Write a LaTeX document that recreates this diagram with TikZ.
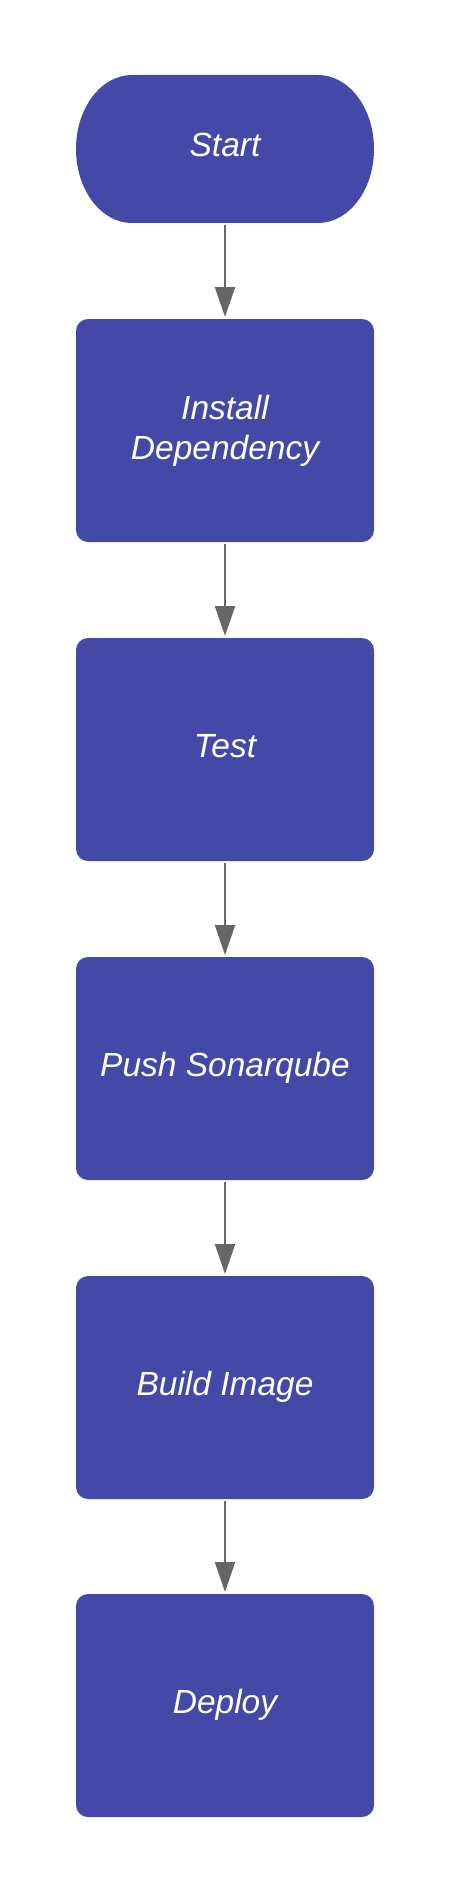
\documentclass[tikz,border=0pt]{standalone}
\usepackage{fontspec}
\setmainfont{Liberation Sans}
\usetikzlibrary{arrows.meta}

\definecolor{flowblue}{RGB}{68,73,167}
\definecolor{arrowgray}{RGB}{102,102,102}

\tikzset{
    steptext/.style={text=white, font=\itshape\fontsize{33.5}{40}\selectfont,
        align=center, inner sep=0pt, outer sep=0pt},
    stepbox/.style={steptext, fill=flowblue, rounded corners=12pt,
        minimum width=298pt, minimum height=223pt},
    oneline/.style={text height=24pt, text depth=8pt},
    flowarrow/.style={draw=arrowgray, line width=2pt,
        -{Triangle[width=20pt, length=30pt]}, shorten <=2pt, shorten >=2pt}
}

\begin{document}
\begin{tikzpicture}[x=1pt, y=-1pt]

    \useasboundingbox (0,0) rectangle (450,1894);

    % Start terminal with elliptical ends
    \fill[flowblue] (132,75) -- (318,75)
        arc[start angle=90, end angle=-90, x radius=56pt, y radius=74pt]
        -- (132,223)
        arc[start angle=270, end angle=90, x radius=56pt, y radius=74pt] -- cycle;
    \node[steptext, oneline, minimum width=298pt, minimum height=148pt] (start) at (225,149) {Start};

    % Pipeline steps
    \node[stepbox] (install) at (225,430.5) {Install\\Dependency};
    \node[stepbox, oneline] (test) at (225,749.5) {Test};
    \node[stepbox, oneline] (sonar) at (225,1068.5) {Push Sonarqube};
    \node[stepbox, oneline] (build) at (225,1387.5) {Build Image};
    \node[stepbox, oneline] (deploy) at (225,1705.5) {Deploy};

    % Arrows between steps
    \foreach \a/\b in {start/install, install/test, test/sonar, sonar/build, build/deploy}
        \draw[flowarrow] (\a) -- (\b);

\end{tikzpicture}
\end{document}
